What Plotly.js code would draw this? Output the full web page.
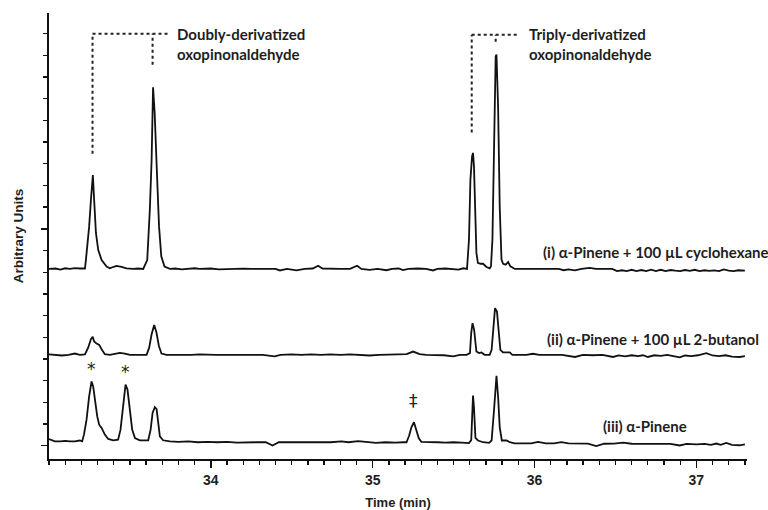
<!DOCTYPE html>
<html>
<head>
<meta charset="utf-8">
<script src="https://cdn.plot.ly/plotly-3.0.1.min.js"></script>
<style>html,body{margin:0;padding:0;background:#fff;}#chart{width:768px;height:510px;}</style>
</head>
<body>
<div id="chart"></div>
<script>
// ---- Data (retention time in min, detector signal in arbitrary units, relative to each baseline) ----
const time_i = [33.00,33.04,33.07,33.10,33.13,33.16,33.19,33.222,33.228,33.248,33.259,33.267,33.271,33.279,33.290,33.304,33.325,33.356,33.376,33.40,33.418,33.448,33.479,33.52,33.55,33.582,33.607,33.623,33.634,33.643,33.653,33.664,33.680,33.694,33.714,33.747,33.78,33.82,33.86,33.90,33.93,33.96,34.00,34.05,34.10,34.15,34.20,34.25,34.30,34.35,34.40,34.427,34.47,34.529,34.58,34.63,34.663,34.69,34.75,34.80,34.86,34.904,34.93,34.98,35.03,35.085,35.12,35.16,35.188,35.22,35.28,35.33,35.373,35.40,35.45,35.50,35.53,35.56,35.583,35.595,35.604,35.614,35.620,35.626,35.633,35.641,35.650,35.666,35.682,35.703,35.723,35.731,35.740,35.750,35.760,35.765,35.775,35.785,35.796,35.806,35.822,35.837,35.851,35.878,35.93,35.98,36.05,36.10,36.15,36.18,36.21,36.25,36.29,36.34,36.38,36.43,36.48,36.51,36.54,36.57,36.60,36.63,36.66,36.69,36.72,36.75,36.78,36.81,36.84,36.87,36.90,36.93,36.96,36.99,37.02,37.05,37.08,37.11,37.14,37.17,37.20,37.23,37.26,37.30];
const signal_i = [0.0,0.02,-0.03,0.03,0.0,0.04,0.02,0.02,0.41,1.95,3.18,4.25,4.33,3.18,1.66,0.88,0.41,0.11,0.03,0.10,0.14,0.10,0.03,0.0,0.02,0.0,0.41,2.72,5.0,8.37,7.19,5.0,1.95,0.57,0.11,0.0,0.02,-0.02,0.0,0.03,0.0,0.0,0.02,-0.02,0.0,0.0,0.01,0.0,0.0,0.0,0.0,-0.07,0.0,-0.07,0.0,0.02,0.15,0.02,0.0,0.0,0.0,0.15,0.0,-0.04,0.0,-0.06,0.0,0.02,-0.05,0.0,0.02,0.0,-0.07,0.0,0.02,0.0,-0.03,0.03,0.0,1.35,4.12,5.19,5.35,4.73,2.88,0.74,0.28,0.24,0.24,0.09,0.03,0.12,1.35,5.96,9.80,9.88,7.49,2.88,0.43,0.24,0.20,0.32,0.12,0.0,0.0,0.0,0.0,0.0,0.0,-0.06,-0.02,-0.07,0.0,0.05,0.0,0.0,0.0,-0.1,-0.06,-0.1,-0.04,-0.1,-0.05,-0.1,-0.03,-0.1,-0.04,-0.1,-0.05,-0.08,-0.1,-0.05,-0.09,-0.04,-0.1,-0.06,-0.09,-0.07,-0.1,-0.02,-0.08,-0.1,-0.06,-0.08];

const time_ii = [33.00,33.04,33.08,33.12,33.16,33.19,33.222,33.242,33.259,33.270,33.279,33.294,33.310,33.325,33.345,33.376,33.407,33.438,33.469,33.500,33.55,33.603,33.619,33.634,33.650,33.664,33.679,33.695,33.726,33.78,33.83,33.88,33.93,33.98,34.03,34.08,34.14,34.20,34.26,34.32,34.395,34.43,34.50,34.56,34.62,34.68,34.74,34.80,34.86,34.92,34.98,35.04,35.10,35.16,35.21,35.25,35.29,35.33,35.38,35.44,35.497,35.54,35.58,35.601,35.609,35.617,35.627,35.633,35.641,35.657,35.672,35.692,35.723,35.735,35.748,35.756,35.768,35.777,35.789,35.805,35.847,35.863,35.90,35.95,35.99,36.03,36.10,36.17,36.25,36.30,36.36,36.42,36.485,36.52,36.56,36.60,36.64,36.67,36.701,36.74,36.78,36.82,36.85,36.897,36.93,36.97,37.01,37.062,37.10,37.14,37.18,37.22,37.267,37.30];
const signal_ii = [0.02,0.0,-0.03,0.0,0.06,0.0,0.02,0.33,0.72,0.83,0.62,0.52,0.46,0.26,0.03,0.0,0.06,0.09,0.06,0.0,0.0,0.0,0.33,0.95,1.38,1.03,0.41,0.06,0.0,0.0,-0.03,0.0,0.02,0.0,0.0,0.0,0.0,0.02,0.0,0.0,-0.07,0.0,0.02,0.0,0.02,0.0,0.02,0.0,0.02,0.0,-0.03,0.0,0.0,0.0,0.03,0.15,0.03,0.0,0.0,-0.02,-0.07,0.0,0.0,0.08,1.01,1.46,1.15,0.69,0.15,0.08,0.11,0.0,0.0,0.23,1.46,2.15,2.0,1.31,0.23,0.11,0.11,0.0,0.0,0.0,0.05,0.0,0.0,0.0,-0.1,0.0,-0.02,0.0,-0.1,-0.03,-0.07,-0.02,-0.06,-0.02,-0.1,-0.02,-0.05,0.0,-0.05,-0.12,-0.03,-0.06,-0.02,0.08,-0.03,-0.06,-0.02,-0.08,-0.1,-0.06];

const time_iii = [33.00,33.02,33.036,33.07,33.10,33.13,33.16,33.19,33.205,33.216,33.232,33.248,33.263,33.273,33.284,33.298,33.310,33.325,33.345,33.366,33.397,33.427,33.442,33.458,33.473,33.485,33.500,33.514,33.531,33.561,33.613,33.628,33.640,33.654,33.665,33.676,33.685,33.705,33.747,33.80,33.86,33.92,33.98,34.04,34.10,34.16,34.22,34.28,34.34,34.381,34.42,34.50,34.56,34.62,34.68,34.74,34.807,34.85,34.91,34.96,35.02,35.08,35.14,35.19,35.209,35.225,35.24,35.255,35.27,35.285,35.301,35.34,35.40,35.45,35.50,35.55,35.595,35.609,35.614,35.620,35.626,35.635,35.651,35.682,35.719,35.735,35.750,35.760,35.765,35.775,35.785,35.798,35.827,35.847,35.878,35.93,35.98,36.022,36.07,36.12,36.166,36.21,36.27,36.33,36.382,36.43,36.49,36.547,36.60,36.66,36.72,36.78,36.84,36.897,36.94,37.00,37.05,37.09,37.124,37.15,37.185,37.22,37.267,37.30];
const signal_iii = [0.15,0.08,0.04,0.04,0.06,0.04,0.04,0.08,0.04,0.35,1.04,2.11,2.80,2.57,1.96,1.19,0.81,0.66,0.35,0.15,0.09,0.12,0.58,1.81,2.66,2.43,1.51,0.58,0.19,0.09,0.09,0.58,1.35,1.62,1.53,0.89,0.27,0.09,0.04,0.02,0.04,0.0,0.02,0.0,0.02,-0.02,0.0,0.0,0.0,-0.15,0.0,0.0,-0.02,0.0,0.0,0.0,0.04,0.0,0.05,0.0,-0.03,0.0,-0.02,0.0,0.0,0.3,0.7,0.92,0.6,0.18,0.02,0.0,0.0,-0.02,0.0,-0.02,-0.04,0.1,1.6,2.15,1.6,0.2,0.08,0.0,-0.03,0.08,1.5,2.9,3.06,2.1,0.7,0.08,0.08,0.0,-0.05,-0.05,-0.05,0.02,-0.05,-0.05,0.0,-0.05,-0.05,-0.06,-0.18,-0.07,-0.06,-0.02,-0.07,-0.07,-0.07,-0.08,-0.08,-0.15,-0.08,-0.1,-0.08,-0.12,-0.06,-0.12,-0.03,-0.12,-0.14,-0.1];

const sampleLabels = ["(i) α-Pinene + 100 µL cyclohexane", "(ii) α-Pinene + 100 µL 2-butanol", "(iii) α-Pinene"];
const groupLabels = [["Doubly-derivatized", "oxopinonaldehyde"], ["Triply-derivatized", "oxopinonaldehyde"]];
const xTickVals = [34, 35, 36, 37];
const xTickText = ["34", "35", "36", "37"];

// ---- Layout / style (not data) ----
const offsets = [8.15, 4.19, 0.16];
const lineStyle = {color: "#111", width: 1.8};
const txtColor = "#1e1e1e";
const labelFont = {family: "Lato, 'Open Sans', sans-serif", size: 15, color: txtColor, weight: 700};

function shift(arr, off) { return arr.map(v => v + off); }

const traces = [
  {x: time_i, y: shift(signal_i, offsets[0]), mode: "lines", line: lineStyle, hoverinfo: "skip"},
  {x: time_ii, y: shift(signal_ii, offsets[1]), mode: "lines", line: lineStyle, hoverinfo: "skip"},
  {x: time_iii, y: shift(signal_iii, offsets[2]), mode: "lines", line: lineStyle, hoverinfo: "skip"}
];

const dot = {color: "#222", width: 2, dash: "dot"};
const shapes = [
  // doubly-derivatized bracket
  {type: "line", xref: "x", yref: "y", x0: 33.269, x1: 33.269, y0: 13.46, y1: 18.99, line: dot},
  {type: "line", xref: "x", yref: "y", x0: 33.269, x1: 33.747, y0: 18.99, y1: 18.99, line: dot},
  {type: "line", xref: "x", yref: "y", x0: 33.640, x1: 33.640, y0: 17.56, y1: 18.99, line: dot},
  // triply-derivatized bracket
  {type: "line", xref: "x", yref: "y", x0: 35.612, x1: 35.612, y0: 14.44, y1: 18.95, line: dot},
  {type: "line", xref: "x", yref: "y", x0: 35.612, x1: 35.898, y0: 18.95, y1: 18.95, line: dot},
  {type: "line", xref: "x", yref: "y", x0: 35.760, x1: 35.760, y0: 18.63, y1: 18.95, line: dot}
];

function ann(text, x, y, font, extra) {
  return Object.assign({text: text, x: x, y: y, xref: "x", yref: "y", showarrow: false,
    xanchor: "left", yanchor: "middle", font: font}, extra || {});
}
const symFont = {family: "'DejaVu Sans', sans-serif", size: 17, color: "#222"};
const annotations = [
  ann(groupLabels[0][0], 33.780, 18.99, labelFont),
  ann(groupLabels[0][1], 33.780, 18.08, labelFont),
  ann(groupLabels[1][0], 35.956, 18.99, labelFont),
  ann(groupLabels[1][1], 35.956, 18.08, labelFont),
  ann(sampleLabels[0], 36.038, 8.95, labelFont),
  ann(sampleLabels[1], 36.064, 4.92, labelFont),
  ann(sampleLabels[2], 36.412, 0.92, labelFont),
  ann("*", 33.262, 3.55, symFont, {xanchor: "center"}),
  ann("*", 33.475, 3.4, symFont, {xanchor: "center"}),
  ann("‡", 35.254, 2.05, symFont, {xanchor: "center"})
];

const axisFont = {family: "'Liberation Sans', Arial, sans-serif", size: 13, color: txtColor, weight: 700};

const layout = {
  width: 768, height: 510,
  margin: {l: 49, r: 20.7, t: 12.7, b: 50.7},
  paper_bgcolor: "#fff", plot_bgcolor: "#fff",
  showlegend: false,
  font: {family: "'Liberation Sans', Arial, sans-serif", color: txtColor},
  xaxis: {
    range: [33.0, 37.313], showgrid: false, zeroline: false,
    showline: true, linecolor: "#111", linewidth: 1.8,
    tickmode: "array", tickvals: xTickVals, ticktext: xTickText,
    ticks: "outside", ticklen: 7, tickwidth: 1.5, tickcolor: "#111",
    tickfont: {family: "'Liberation Sans', Arial, sans-serif", size: 14, color: txtColor, weight: 700},
    minor: {dtick: 0.1, tick0: 33, ticks: "outside", ticklen: 4, tickwidth: 1.3, tickcolor: "#111"},
    title: {text: "Time (min)", font: axisFont, standoff: 12}
  },
  yaxis: {
    range: [-0.613, 19.95], showgrid: false, zeroline: false,
    showline: true, linecolor: "#111", linewidth: 1.8,
    tickmode: "linear", tick0: 0, dtick: 10,
    ticks: "outside", ticklen: 6.5, tickwidth: 1.5, tickcolor: "#111",
    showticklabels: false,
    minor: {dtick: 1, tick0: 0, ticks: "outside", ticklen: 4, tickwidth: 1.3, tickcolor: "#111"},
    title: {text: "Arbitrary Units", font: {family: "'Liberation Sans', Arial, sans-serif", size: 13.5, color: txtColor, weight: 700}, standoff: 14}
  },
  shapes: shapes,
  annotations: annotations
};

Plotly.newPlot("chart", traces, layout, {staticPlot: true, displayModeBar: false});
</script>
</body>
</html>
